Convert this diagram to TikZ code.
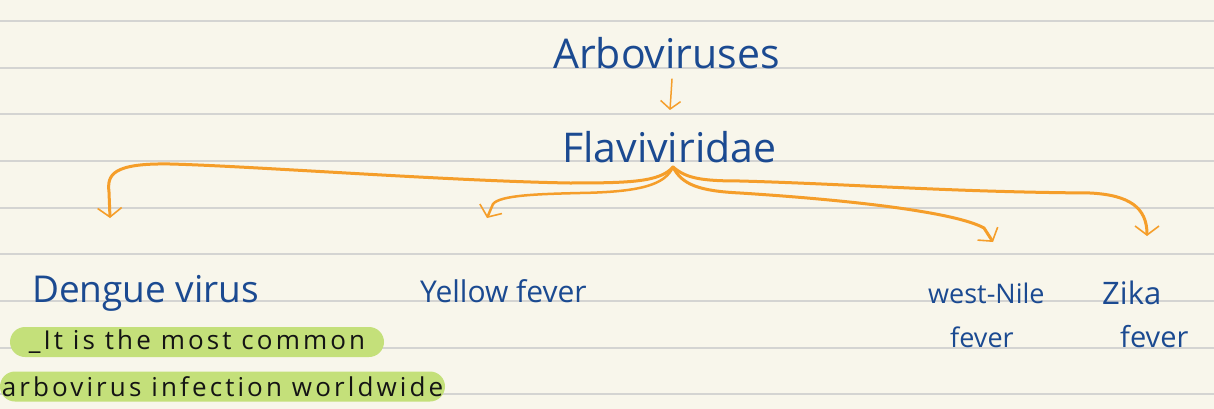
\documentclass[tikz,border=0pt]{standalone}
\usepackage{fontspec}
\setmainfont{Open Sans}
\usetikzlibrary{arrows.meta}
\definecolor{paper}{RGB}{248,246,235}
\definecolor{rulec}{RGB}{212,212,210}
\definecolor{ink}{RGB}{27,74,145}
\definecolor{orng}{RGB}{245,158,42}
\definecolor{hlc}{RGB}{196,224,122}
\definecolor{blk}{RGB}{20,20,20}
\tikzset{
  hand/.style={text=ink, inner sep=0pt, anchor=base west},
  hltext/.style={text=blk, fill=hlc, rounded corners=15pt, inner sep=0pt, minimum height=30pt,
    font=\fontsize{26}{26}\selectfont\addfontfeatures{LetterSpace=12}},
  branch/.style={draw=orng, line width=3pt, line cap=round,
    -{Straight Barb[length=9pt,width=24pt,line width'=1.6pt]}},
  thinarrow/.style={draw=orng, line width=1.5pt, line cap=round,
    -{Straight Barb[length=8pt,width=20pt,line width'=1.5pt]}}
}
\begin{document}
\begin{tikzpicture}[x=1pt,y=-1pt]
\fill[paper] (0,0) rectangle (1214,409);
\useasboundingbox (0,0) rectangle (1214,409);
\foreach \yy in {21,68,114,161,208,254,301,348,394}
  \draw[rulec, line width=1.5pt] (0,\yy) -- (1214,\yy);

% highlights
\node[hltext, minimum width=374pt] (hl1) at (197,342) {\_It is the most common};
\node[hltext, minimum width=445pt] (hl2) at (222.5,386.5) {arbovirus infection worldwide};

% titles
\node[hand, font=\fontsize{41}{41}\selectfont] (arbo) at (553,69) {Arboviruses};
\node[hand, font=\fontsize{41}{41}\selectfont] (flavi) at (562,162) {Flaviviridae};

% leaves
\node[hand, font=\fontsize{37}{37}\selectfont] (dengue) at (32,302) {Dengue virus};
\node[hand, font=\fontsize{30}{30}\selectfont] (yellow) at (420,302) {Yellow fever};
\node[hand, font=\fontsize{27}{27}\selectfont] (westnile) at (928,303) {west-Nile};
\node[hand, font=\fontsize{27}{27}\selectfont] (wnfever) at (950,347) {fever};
\node[hand, font=\fontsize{31}{31}\selectfont] (zika) at (1102,304) {Zika};
\node[hand, font=\fontsize{29}{29}\selectfont] (zfever) at (1120,347) {fever};

% connector coordinates
\coordinate (arbotail) at (672,79);
\coordinate (flavihead) at (670,110);
\coordinate (hub) at (673,167);
\coordinate (dtip) at (110,218);
\coordinate (ytip) at (487,218);
\coordinate (wtip) at (993,242);
\coordinate (ztip) at (1147,236);

\draw[thinarrow] (arbotail) -- (flavihead);

\draw[branch] (hub) .. controls (660,182) and (630,183) .. (570,183)
  .. controls (450,181) and (250,166) .. (170,164)
  .. controls (112,163) and (107,175) .. (109,192) -- (dtip);
\draw[branch, line width=2.5pt] (hub) .. controls (665,185) and (640,192) .. (580,193)
  .. controls (540,194) and (500,195) .. (493,204) -- (ytip);
\draw[branch] (hub) .. controls (682,185) and (700,191) .. (740,193)
  .. controls (850,200) and (955,212) .. (984,228) -- (wtip);
\draw[branch] (hub) .. controls (686,178) and (700,181) .. (740,181)
  .. controls (850,184) and (950,192) .. (1090,193)
  .. controls (1130,195) and (1147,208) .. (ztip);
\end{tikzpicture}
\end{document}
